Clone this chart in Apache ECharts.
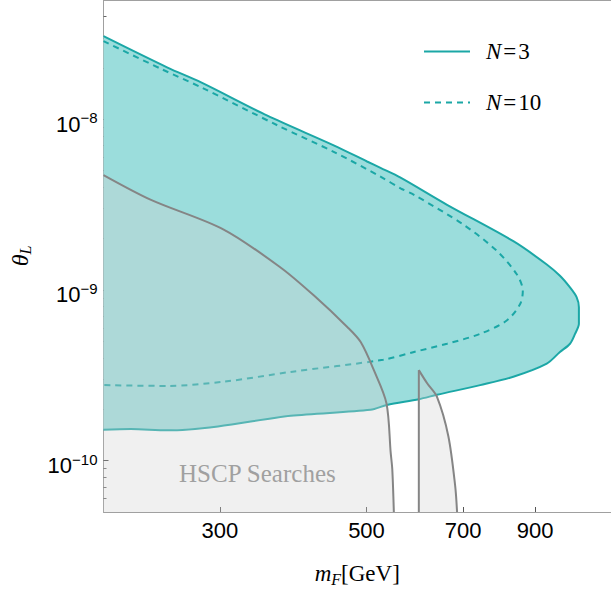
<!DOCTYPE html>
<html><head><meta charset="utf-8">
<script src="https://cdn.jsdelivr.net/npm/echarts@6/dist/echarts.min.js"></script>
<style>html,body{margin:0;padding:0;background:#fff}#c{width:611px;height:592px}</style>
</head><body><div id="c"></div>
<script>
// ---- data ----
const xTickValues = [300, 500, 700, 900];
const yTickValues = [1e-10, 1e-9, 1e-8];
const yMinorTickValues = [6e-11, 7e-11, 8e-11, 9e-11,
  2e-10, 3e-10, 4e-10, 5e-10, 6e-10, 7e-10, 8e-10, 9e-10,
  2e-9, 3e-9, 4e-9, 5e-9, 6e-9, 7e-9, 8e-9, 9e-9,
  2e-8, 3e-8, 4e-8];

const n3Mass  = [200, 250, 281, 354, 446, 501, 525, 563, 662, 834, 937, 981, 1016, 1040, 1048, 1048, 1034, 1016, 981, 937, 834, 743, 639, 600, 537, 507, 384, 298, 250, 220, 200];
const n3Theta = [3.07e-8, 2.01e-8, 1.645e-8, 1.05e-8, 7.04e-9, 5.66e-9, 5.19e-9, 4.55e-9, 3.155e-9, 1.93e-9, 1.41e-9, 1.21e-9, 1.034e-9, 9.05e-10, 7.91e-10, 6.33e-10, 5.53e-10, 4.84e-10, 4.33e-10, 3.70e-10, 3.10e-10, 2.77e-10, 2.43e-10, 2.29e-10, 2.12e-10, 1.985e-10, 1.83e-10, 1.587e-10, 1.504e-10, 1.53e-10, 1.518e-10];

const n10Mass  = [200, 245, 281, 367, 446, 525, 563, 590, 701, 788, 844, 862, 854, 815, 743, 662, 590, 530, 384, 304, 250, 200];
const n10Theta = [2.87e-8, 1.966e-8, 1.54e-8, 9.2e-9, 6.45e-9, 4.61e-9, 3.94e-9, 3.61e-9, 2.413e-9, 1.69e-9, 1.235e-9, 9.89e-10, 8.27e-10, 6.62e-10, 5.53e-10, 4.84e-10, 4.33e-10, 3.9e-10, 3.31e-10, 2.90e-10, 2.74e-10, 2.77e-10];

const hscpLeftMass  = [200, 236, 304, 371, 416, 468, 490, 513, 536, 544, 547, 550, 200];
const hscpLeftTheta = [4.71e-9, 3.37e-9, 2.26e-9, 1.35e-9, 9.3e-10, 6.05e-10, 4.95e-10, 3.39e-10, 2.17e-10, 1.11e-10, 8.9e-11, 5e-11, 5e-11];

const hscpRightMass  = [600, 600, 618, 639, 665, 681, 685.5];
const hscpRightTheta = [5e-11, 3.39e-10, 2.83e-10, 2.37e-10, 1.39e-10, 7.11e-11, 5e-11];

const xMin = 200, xMax = 1172, yMin = 5e-11, yMax = 5e-8;

// ---- helpers ----
const zip = (a, b) => a.map((v, i) => [v, b[i]]);
const teal = '#1ba7a6';
const grayLine = '#858585';
const grayFill = 'rgba(208,208,208,0.33)';
const serif = 'Liberation Serif';
const sans = 'Liberation Sans';

function polygonSeries(mass, theta, fill, z) {
  return {
    type: 'custom', z: z, silent: true, xAxisIndex: 0, yAxisIndex: 0,
    data: [[mass[0], theta[0]]],
    renderItem: (params, api) => ({
      type: 'polygon',
      shape: { points: mass.map((m, i) => api.coord([m, theta[i]])) },
      style: { fill: fill }
    }),
    clip: true
  };
}
function curve(name, data, color, z, smooth, type) {
  return {
    name: name, type: 'line', z: z, data: data,
    symbol: 'none', showSymbol: false, smooth: smooth, silent: true,
    lineStyle: { color: color, width: 2, type: type || 'solid' }, itemStyle: { color: color }
  };
}

const chart = echarts.init(document.getElementById('c'), null, { renderer: 'svg' });
chart.setOption({
  animation: false,
  backgroundColor: '#fff',
  grid: { left: 102, right: 0, top: 0, bottom: 76 },
  legend: {
    data: ['N=3', 'N=10'],
    orient: 'vertical', left: 418, top: 35,
    itemWidth: 46, itemHeight: 22, itemGap: 28,
    itemStyle: { opacity: 0 },
    formatter: name => { const p = name.split('='); return '{i|' + p[0] + '}{e|=}{n|' + p[1] + '}'; },
    textStyle: {
      rich: {
        i: { fontFamily: serif, fontStyle: 'italic', fontSize: 23, color: '#000', padding: [0, 0, 0, 11] },
        e: { fontFamily: serif, fontSize: 23, color: '#000', padding: [0, 2, 0, 2] },
        n: { fontFamily: serif, fontSize: 23, color: '#000' }
      }
    }
  },
  xAxis: [{
    type: 'log', min: xMin, max: xMax, position: 'bottom',
    axisLine: { show: true, lineStyle: { color: '#a0a0a0', width: 1 } },
    axisTick: { show: true, inside: true, length: 5, customValues: xTickValues, lineStyle: { color: '#555' } },
    minorTick: { show: false },
    axisLabel: { customValues: xTickValues, fontFamily: sans, fontSize: 22, color: '#000', margin: 7 },
    splitLine: { show: false },
    name: '{i|m}{s|F}{n|[GeV]}', nameLocation: 'middle', nameGap: 48,
    nameTextStyle: {
      rich: {
        i: { fontFamily: serif, fontStyle: 'italic', fontSize: 23, color: '#000', lineHeight: 27 },
        s: { fontFamily: serif, fontStyle: 'italic', fontSize: 16, color: '#000', verticalAlign: 'bottom', lineHeight: 16 },
        n: { fontFamily: serif, fontSize: 23, color: '#000', lineHeight: 27 }
      }
    }
  }, {
    type: 'log', min: xMin, max: xMax, position: 'top',
    axisLine: { show: true, lineStyle: { color: '#a0a0a0', width: 1 } },
    axisTick: { show: false }, axisLabel: { show: false }, splitLine: { show: false }
  }],
  yAxis: [{
    type: 'log', min: yMin, max: yMax, position: 'left',
    axisLine: { show: true, lineStyle: { color: '#a0a0a0', width: 1 } },
    axisTick: { show: true, inside: true, length: 5, customValues: yTickValues, lineStyle: { color: '#444' } },
    minorTick: { show: false },
    axisLabel: {
      customValues: yTickValues, margin: 6, padding: [10, 0, 0, 0],
      formatter: v => '{b|10}{s|\u2212' + Math.round(-Math.log10(v)) + '}',
      rich: {
        b: { fontFamily: sans, fontSize: 22, color: '#000', lineHeight: 28 },
        s: { fontFamily: sans, fontSize: 15, color: '#000', verticalAlign: 'top', lineHeight: 15 }
      }
    },
    splitLine: { show: false },
    name: '{t|\u03b8}{s|L}', nameLocation: 'middle', nameGap: 70, nameRotate: 90,
    nameTextStyle: {
      rich: {
        t: { fontFamily: serif, fontStyle: 'italic', fontSize: 24, color: '#000', lineHeight: 27 },
        s: { fontFamily: serif, fontStyle: 'italic', fontSize: 16, color: '#000', verticalAlign: 'bottom', lineHeight: 16 }
      }
    }
  }, {
    type: 'log', min: yMin, max: yMax, position: 'left',
    axisLine: { show: false },
    axisTick: { show: true, inside: true, length: 3, customValues: yMinorTickValues, lineStyle: { color: '#666' } },
    axisLabel: { show: false }, splitLine: { show: false }
  }],
  graphic: [{
    type: 'text', left: 179, top: 461, silent: true,
    style: { text: 'HSCP Searches', fontFamily: serif, fontSize: 25, fill: '#888' }
  }],
  series: [
    polygonSeries(n3Mass, n3Theta, '#9bdddc', 1),
    curve('N=3', zip(n3Mass, n3Theta), teal, 2, 0.3),
    curve('N=10', zip(n10Mass, n10Theta), teal, 2, 0.3, [6, 5]),
    polygonSeries(hscpLeftMass, hscpLeftTheta, grayFill, 3),
    polygonSeries(hscpRightMass, hscpRightTheta, grayFill, 3),
    curve('hscpL', zip(hscpLeftMass.slice(0, -1), hscpLeftTheta.slice(0, -1)), grayLine, 4, 0.3),
    curve('hscpRv', zip(hscpRightMass.slice(0, 2), hscpRightTheta.slice(0, 2)), grayLine, 4, false),
    curve('hscpRc', zip(hscpRightMass.slice(1), hscpRightTheta.slice(1)), grayLine, 4, 0.3)
  ]
});
</script>
</body></html>
